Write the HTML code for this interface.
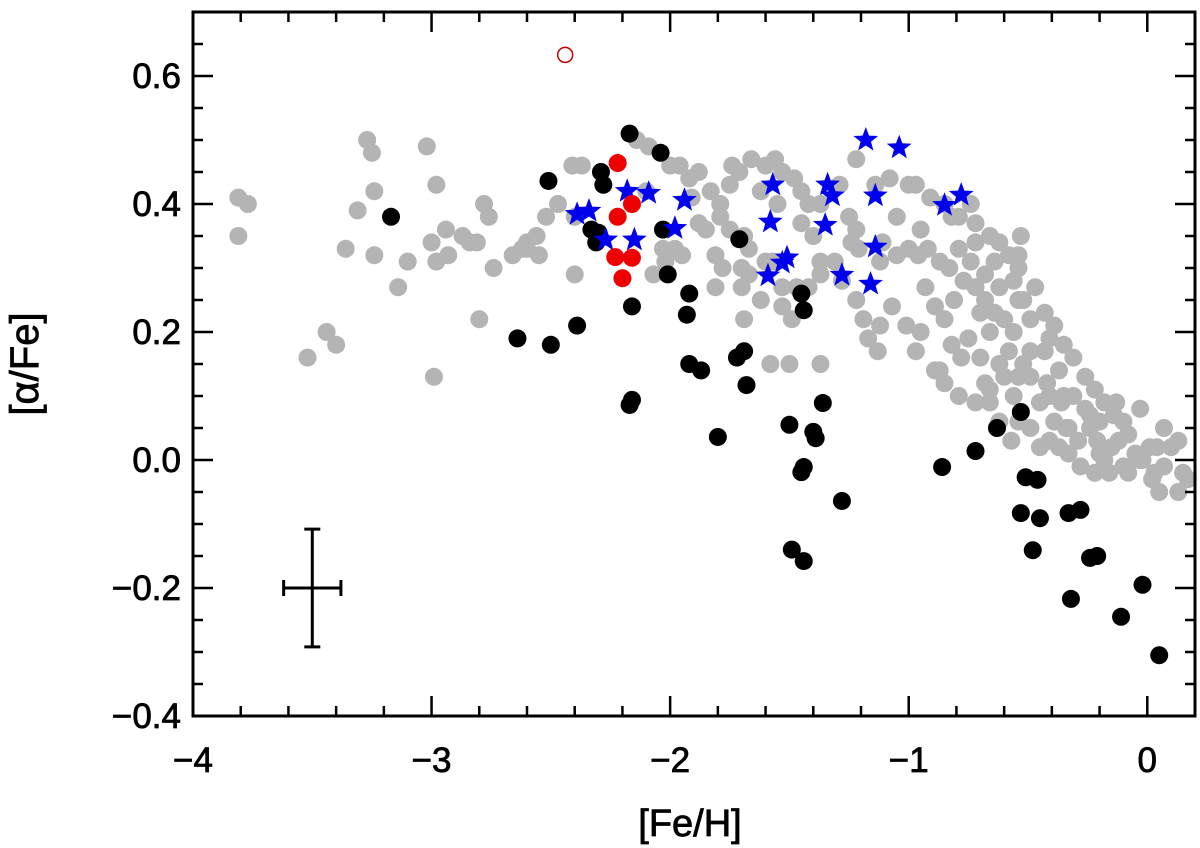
<!DOCTYPE html>
<html><head><meta charset="utf-8"><style>
html,body{margin:0;padding:0;background:#fff;}
svg{display:block;font-family:"Liberation Sans",sans-serif;}
</style></head><body>
<svg id="chart" width="1200" height="848" viewBox="0 0 1200 848" xmlns="http://www.w3.org/2000/svg">
<g id="marks"></g>
<g id="axes"></g>
</svg>
<script>
const xTicks=[-4,-3,-2,-1,0];
const yTicks=[-0.4,-0.2,0.0,0.2,0.4,0.6];
const xTickLabels=["\u22124","\u22123","\u22122","\u22121","0"];
const yTickLabels=["\u22120.4","\u22120.2","0.0","0.2","0.4","0.6"];
const grayFeH=[-3.81,-3.77,-3.81,-3.52,-3.44,-3.40,-3.36,-3.27,-3.25,-3.24,-3.31,-3.24,-3.14,-3.10,-3.02,-2.98,-3.00,-2.98,-2.99,-2.93,-2.87,-2.84,-2.81,-2.76,-2.74,-2.78,-2.80,-2.94,-2.66,-2.62,-2.60,-2.56,-2.52,-2.41,-2.40,-2.47,-2.37,-2.14,-2.09,-2.00,-1.96,-1.92,-1.88,-1.83,-1.91,-1.79,-1.75,-1.74,-1.71,-1.66,-1.60,-1.56,-1.53,-1.48,-1.45,-1.42,-1.37,-1.29,-1.22,-1.14,-1.08,-1.00,-0.97,-0.91,-0.85,-0.82,-0.79,-0.74,-0.72,-0.66,-0.62,-0.53,-2.03,-1.98,-1.95,-2.02,-2.07,-1.88,-1.79,-1.75,-1.69,-1.67,-1.70,-1.67,-1.60,-1.57,-1.81,-1.78,-1.81,-1.70,-1.62,-1.53,-1.47,-1.53,-1.49,-1.42,-1.37,-1.37,-1.31,-1.28,-1.24,-1.22,-1.21,-1.12,-1.11,-1.05,-1.00,-0.96,-0.92,-1.69,-1.58,-1.50,-1.37,-1.22,-1.19,-1.12,-1.17,-1.13,-1.07,-1.01,-0.95,-0.97,-0.87,-0.82,-0.78,-0.75,-0.70,-0.68,-0.62,-0.60,-0.56,-0.52,-0.49,-0.45,-0.42,-0.39,-0.36,-0.33,-0.29,-0.26,-0.24,-0.21,-0.18,-0.15,-0.12,-0.08,-0.05,-0.03,0.01,0.04,0.07,0.10,0.13,0.15,0.17,0.13,0.07,0.03,-0.02,-0.10,-0.16,-0.22,-0.28,-0.33,-0.37,-0.41,-0.45,-0.49,-0.54,-0.57,-0.62,-0.66,-0.72,-0.79,-0.85,-0.89,-0.56,-0.60,-0.64,-0.68,-0.72,-0.77,-0.81,-0.85,-0.89,-0.93,-0.52,-0.47,-0.43,-0.39,-0.35,-0.31,-0.26,-0.22,-0.18,-0.14,-0.43,-0.37,-0.35,-0.31,-0.24,-0.20,-0.58,-0.66,-0.70,-0.62,-0.56,-0.54,-0.58,-0.64,-0.68,-0.74,-0.83,-0.87,-0.79,-0.72,-0.54,-0.41,-0.49,-0.41,-0.54,-0.66,-0.10,-0.03,-0.13,-0.34,-0.20,-0.08,0.02,0.05,-0.54,-0.49,-1.45,-1.40,-1.25,-1.05,-0.95,-1.55,-1.62,-1.85,-2.10,-2.40,-2.55,-2.60];
const grayAlpha=[0.41,0.40,0.35,0.16,0.20,0.18,0.33,0.50,0.48,0.42,0.39,0.32,0.27,0.31,0.49,0.43,0.34,0.31,0.13,0.32,0.35,0.34,0.34,0.38,0.30,0.40,0.22,0.36,0.32,0.33,0.34,0.35,0.38,0.46,0.29,0.40,0.46,0.50,0.49,0.46,0.46,0.44,0.45,0.42,0.41,0.40,0.43,0.46,0.45,0.47,0.46,0.47,0.45,0.44,0.42,0.40,0.40,0.43,0.47,0.43,0.44,0.43,0.43,0.41,0.40,0.38,0.38,0.40,0.37,0.35,0.34,0.35,0.33,0.33,0.32,0.31,0.29,0.37,0.38,0.36,0.35,0.33,0.30,0.29,0.31,0.31,0.32,0.30,0.27,0.27,0.25,0.27,0.27,0.24,0.22,0.27,0.29,0.31,0.31,0.28,0.34,0.36,0.33,0.31,0.34,0.32,0.33,0.32,0.33,0.22,0.15,0.15,0.15,0.25,0.22,0.21,0.19,0.17,0.24,0.21,0.20,0.17,0.14,0.18,0.16,0.19,0.16,0.12,0.15,0.13,0.10,0.15,0.13,0.09,0.12,0.06,0.09,0.05,0.03,0.08,0.05,0.03,0.00,0.02,0.03,0.04,0.01,0.00,0.02,0.02,0.05,0.02,0.03,-0.02,-0.03,-0.05,-0.01,-0.02,0.00,-0.01,-0.02,-0.02,-0.01,0.01,0.02,0.03,0.02,0.05,0.06,0.03,0.06,0.09,0.09,0.10,0.12,0.14,0.20,0.22,0.23,0.25,0.27,0.28,0.25,0.22,0.24,0.27,0.25,0.27,0.23,0.21,0.18,0.16,0.13,0.11,0.09,0.07,0.17,0.14,0.10,0.10,0.07,0.06,0.17,0.20,0.23,0.27,0.28,0.30,0.32,0.31,0.29,0.31,0.30,0.31,0.33,0.34,0.32,0.19,0.17,0.10,0.13,0.11,0.06,0.08,0.09,0.05,0.01,-0.02,-0.03,-0.05,0.25,0.22,0.37,0.35,0.38,0.38,0.36,0.40,0.42,0.36,0.42,0.38,0.32,0.33];
const blackFeH=[-3.17,-2.51,-2.17,-2.04,-2.29,-2.28,-2.33,-2.31,-2.30,-2.03,-1.71,-2.01,-2.16,-2.16,-2.17,-1.92,-1.93,-2.39,-2.64,-2.50,-1.92,-1.87,-1.69,-1.72,-1.68,-1.80,-1.45,-1.44,-1.36,-1.50,-1.40,-1.39,-1.44,-1.45,-1.49,-1.44,-1.28,-0.86,-0.63,-0.53,-0.72,-0.51,-0.46,-0.53,-0.45,-0.48,-0.33,-0.28,-0.32,-0.24,-0.21,-0.11,-0.02,0.05];
const blackAlpha=[0.38,0.436,0.51,0.48,0.45,0.43,0.36,0.34,0.355,0.36,0.345,0.29,0.24,0.094,0.086,0.26,0.227,0.21,0.19,0.18,0.15,0.14,0.17,0.16,0.117,0.036,0.26,0.234,0.089,0.055,0.044,0.034,-0.011,-0.019,-0.14,-0.158,-0.064,-0.011,0.05,0.075,0.014,-0.027,-0.031,-0.083,-0.091,-0.141,-0.083,-0.078,-0.217,-0.153,-0.15,-0.245,-0.195,-0.305];
const redFeH=[-2.22,-2.22,-2.16,-2.23,-2.16,-2.20];
const redAlpha=[0.464,0.38,0.40,0.317,0.316,0.284];
const openFeH=[-2.44];
const openAlpha=[0.633];
const starFeH=[-2.39,-2.34,-2.27,-2.18,-2.09,-2.15,-1.94,-1.98,-1.57,-1.58,-1.59,-1.53,-1.51,-1.34,-1.32,-1.35,-1.28,-1.18,-1.04,-1.14,-1.14,-1.16,-0.85,-0.78];
const starAlpha=[0.384,0.389,0.344,0.42,0.417,0.344,0.406,0.362,0.43,0.372,0.288,0.308,0.316,0.43,0.413,0.367,0.289,0.5,0.488,0.413,0.333,0.275,0.398,0.414];
const errCenter=[-3.5,-0.2];
const errSize=[0.12,0.092];

const L=193,R=1195,T=12,B=716;
const xMin=-4,xMax=0.2,yMin=-0.4,yMax=0.7;
function sx(v){return L+(v-xMin)/(xMax-xMin)*(R-L);}
function sy(v){return B-(v-yMin)/(yMax-yMin)*(B-T);}
const NS="http://www.w3.org/2000/svg";
const marks=document.getElementById('marks');
const axes=document.getElementById('axes');
function mk(tag,attrs,parent){const e=document.createElementNS(NS,tag);for(const k in attrs)e.setAttribute(k,attrs[k]);parent.appendChild(e);return e;}

grayFeH.forEach((v,i)=>{const c=mk('circle',{cx:sx(v),cy:sy(grayAlpha[i]),r:9,fill:'#b4b4b4'},marks);

});
blackFeH.forEach((v,i)=>{const c=mk('circle',{cx:sx(v),cy:sy(blackAlpha[i]),r:9,fill:'#000'},marks);

});
function starPath(cx,cy,r){let d='';for(let k=0;k<10;k++){const a=-Math.PI/2+k*Math.PI/5;const rr=k%2?r*0.42:r;d+=(k?'L':'M')+(cx+rr*Math.cos(a)).toFixed(1)+','+(cy+rr*Math.sin(a)).toFixed(1);}return d+'Z';}
starFeH.forEach((v,i)=>{const s=mk('path',{d:starPath(sx(v),sy(starAlpha[i]),13),fill:'#0000ee'},marks);

});
redFeH.forEach((v,i)=>{const c=mk('circle',{cx:sx(v),cy:sy(redAlpha[i]),r:9,fill:'#ee0000'},marks);

});
openFeH.forEach((v,i)=>{const c=mk('circle',{cx:sx(v),cy:sy(openAlpha[i]),r:7.5,fill:'none',stroke:'#c00000','stroke-width':1.5},marks);

});

const eb=mk('g',{stroke:'#000','stroke-width':3},marks);


const ex=sx(errCenter[0]),ey=sy(errCenter[1]);
const exl=sx(errCenter[0]-errSize[0]),exr=sx(errCenter[0]+errSize[0]);
const eyt=sy(errCenter[1]+errSize[1]),eyb=sy(errCenter[1]-errSize[1]);
mk('line',{x1:exl,y1:ey,x2:exr,y2:ey},eb);mk('line',{x1:ex,y1:eyt,x2:ex,y2:eyb},eb);
mk('line',{x1:exl,y1:ey-8,x2:exl,y2:ey+8},eb);mk('line',{x1:exr,y1:ey-8,x2:exr,y2:ey+8},eb);
mk('line',{x1:ex-8,y1:eyt,x2:ex+8,y2:eyt},eb);mk('line',{x1:ex-8,y1:eyb,x2:ex+8,y2:eyb},eb);

const fr=mk('rect',{x:L,y:T,width:R-L,height:B-T,fill:'none',stroke:'#000','stroke-width':3},axes);


const tg=mk('g',{stroke:'#000','stroke-width':2.5},axes);
for(let v=-4;v<=0.2001;v+=0.2){const x=sx(v);const major=Math.abs(v-Math.round(v))<1e-6;const len=major?20:10;
mk('line',{x1:x,y1:B,x2:x,y2:B-len},tg);mk('line',{x1:x,y1:T,x2:x,y2:T+len},tg);}
for(let v=-0.4;v<=0.7001;v+=0.05){const y=sy(v);const major=Math.abs(v/0.2-Math.round(v/0.2))<1e-6;const len=major?20:10;
mk('line',{x1:L,y1:y,x2:L+len,y2:y},tg);mk('line',{x1:R,y1:y,x2:R-len,y2:y},tg);}
xTicks.forEach((v,i)=>{const t=mk('text',{x:sx(v),y:B+56,'text-anchor':'middle','font-size':35,fill:'#000',stroke:'#000','stroke-width':0.8},axes);t.textContent=xTickLabels[i];

});
yTicks.forEach((v,i)=>{const t=mk('text',{x:L-12,y:sy(v)+12,'text-anchor':'end','font-size':35,fill:'#000',stroke:'#000','stroke-width':0.8},axes);t.textContent=yTickLabels[i];

});
const xt=mk('text',{x:690,y:836,'text-anchor':'middle','font-size':38,fill:'#000',stroke:'#000','stroke-width':0.8},axes);xt.textContent='[Fe/H]';


const yt=mk('text',{x:38,y:364,'text-anchor':'middle','font-size':40,fill:'#000',stroke:'#000','stroke-width':0.8,transform:'rotate(-90 38 364)'},axes);yt.textContent='[\u03b1/Fe]';


</script>
</body></html>
